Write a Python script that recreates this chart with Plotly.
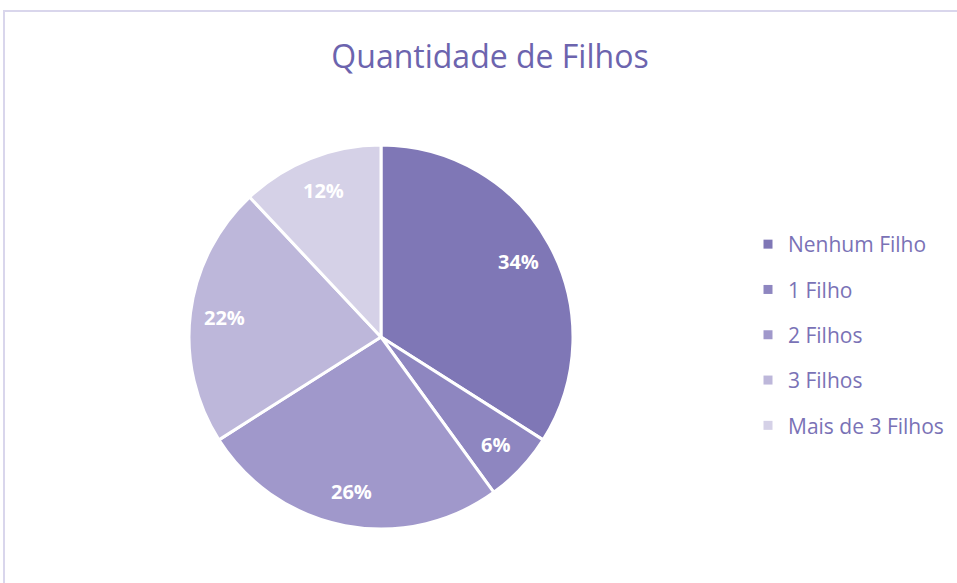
import math
import plotly.graph_objects as go

# Number of children distribution (percent)
categories = ["Nenhum Filho", "1 Filho", "2 Filhos", "3 Filhos", "Mais de 3 Filhos"]
shares = [34, 6, 26, 22, 12]
colors = ["#7F77B6", "#8E86C0", "#A098CB", "#BDB7DA", "#D5D1E7"]

W, H = 957, 583
cx, cy, r = 381, 337, 192  # pie centre and radius in pixels
label_radius = 0.82 * r

fig = go.Figure()

fig.add_trace(go.Pie(
    labels=categories,
    values=shares,
    sort=False,
    direction="clockwise",
    rotation=0,
    marker=dict(colors=colors, line=dict(color="white", width=3)),
    textinfo="none",
    showlegend=False,
    hoverinfo="label+percent",
    domain=dict(x=[(cx - r) / W, (cx + r) / W],
                y=[(H - cy - r) / H, (H - cy + r) / H]),
))

# Percentage labels placed along each slice's bisector
total = sum(shares)
annotations = []
cum = 0
for v in shares:
    mid = (cum + v / 2) / total * 2 * math.pi
    cum += v
    px = cx + label_radius * math.sin(mid)
    py = cy - label_radius * math.cos(mid)
    annotations.append(dict(
        x=px / W, y=1 - py / H, xref="paper", yref="paper",
        text=f"{v}%", showarrow=False,
        xanchor="center", yanchor="middle",
        font=dict(family="Open Sans", size=20, color="white", weight="bold"),
    ))

# Legend entries with small square swatches
for name, col in zip(categories, colors):
    fig.add_trace(go.Scatter(
        x=[None], y=[None], mode="markers", name=name,
        legendgroup=name,
        marker=dict(symbol="square", size=9, color=col),
    ))

# Chart-area frame drawn by the (otherwise empty) axes: top and left edges
frame_color = "#D9D6EC"
x_left = 4.5 / W
y_top = 1 - 11.5 / H
frame_axis = dict(
    showline=True, linecolor=frame_color, linewidth=2,
    showgrid=False, zeroline=False, showticklabels=False,
    ticks="", fixedrange=True,
)

fig.update_layout(
    width=W, height=H,
    margin=dict(l=0, r=0, t=0, b=0),
    paper_bgcolor="white",
    plot_bgcolor="rgba(0,0,0,0)",
    xaxis=dict(frame_axis, side="top", domain=[x_left, 1.0]),
    yaxis=dict(frame_axis, side="left", domain=[0.0, y_top]),
    title=dict(
        text="Quantidade de Filhos",
        x=490 / W, xanchor="center",
        y=1 - 57 / H, yanchor="middle",
        font=dict(family="Open Sans", size=32, color="#6C64AE"),
    ),
    legend=dict(
        x=748 / W, xanchor="left",
        y=1 - 335 / H, yanchor="middle",
        font=dict(family="Open Sans", size=21, color="#7A72B6"),
        tracegroupgap=15,
        bgcolor="rgba(0,0,0,0)",
    ),
    annotations=annotations,
)

fig.write_html("out.html", config={"displayModeBar": False})
